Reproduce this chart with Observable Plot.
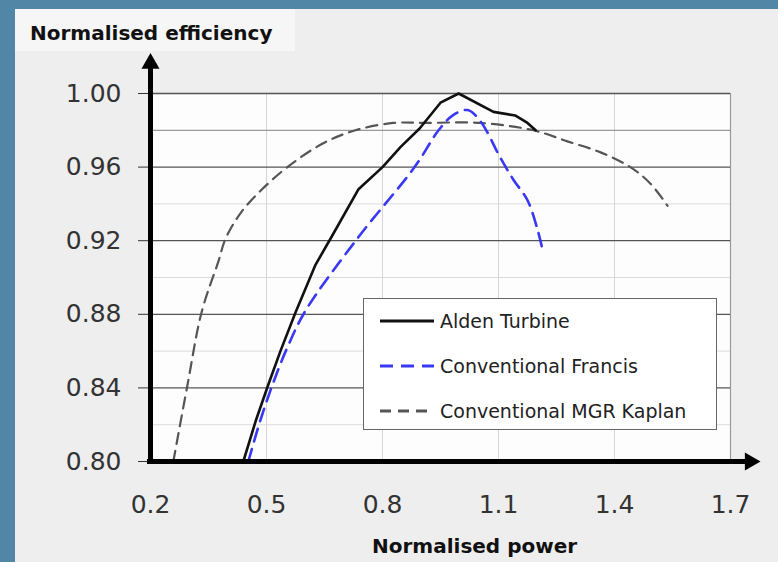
<!DOCTYPE html>
<html>
<head>
<meta charset="utf-8">
<script src="https://cdn.jsdelivr.net/npm/d3@7"></script>
<script src="https://cdn.jsdelivr.net/npm/@observablehq/plot@0.6"></script>
<style>
  html, body { margin: 0; padding: 0; width: 778px; height: 562px; overflow: hidden; background: #5186a7; }
  #panel { position: absolute; left: 15px; top: 9px; right: 0; bottom: 0; background: #eeeeee; }
  #titlebox { position: absolute; left: 15px; top: 9px; width: 280px; height: 42px; background: #f6f6f6; }
  #chart { position: absolute; left: 0; top: 0; }
  .lbl { position: absolute; font-family: "DejaVu Sans", sans-serif; font-weight: bold; font-size: 20px; line-height: 20px; color: #111; white-space: nowrap; }
  #legend { position: absolute; left: 363px; top: 298px; width: 352px; height: 130px; border: 1.5px solid #666; background: #ffffff; font-family: "DejaVu Sans", sans-serif; font-size: 19px; color: #222; }
  .row { position: absolute; left: 0; height: 24px; }
  .row svg { position: absolute; left: 16px; top: 0; }
  .row span { position: absolute; left: 76px; top: 1px; line-height: 22px; white-space: nowrap; }
</style>
</head>
<body>
<div id="panel"></div>
<div id="titlebox"></div>
<div id="chart"></div>
<div class="lbl" style="left:30px; top:23px;">Normalised efficiency</div>
<div class="lbl" style="left:372px; top:536px;">Normalised power</div>
<div id="legend"></div>
<script>
// ---- data ----
const aldenX   = [0.440,0.472,0.505,0.536,0.575,0.627,0.668,0.738,0.800,0.847,0.896,0.950,0.997,1.087,1.144,1.175,1.196];
const aldenY   = [0.800,0.822,0.842,0.860,0.881,0.907,0.922,0.948,0.960,0.971,0.981,0.995,1.000,0.990,0.988,0.984,0.980];
const francisX = [0.453,0.482,0.516,0.554,0.601,0.738,0.883,0.945,0.981,1.020,1.053,1.105,1.139,1.175,1.201,1.214];
const francisY = [0.800,0.821,0.842,0.862,0.882,0.922,0.960,0.980,0.988,0.991,0.985,0.965,0.953,0.942,0.926,0.915];
const kaplanX  = [0.259,0.296,0.332,0.376,0.394,0.433,0.484,0.554,0.647,0.730,0.828,0.906,1.053,1.190,1.278,1.364,1.441,1.493,1.537];
const kaplanY  = [0.800,0.842,0.881,0.909,0.921,0.935,0.947,0.960,0.973,0.980,0.984,0.984,0.984,0.980,0.974,0.968,0.960,0.951,0.939];

const seriesNames = ["Alden Turbine", "Conventional Francis", "Conventional MGR Kaplan"];
const xTicks = [0.2, 0.5, 0.8, 1.1, 1.4, 1.7];
const yTicks = [0.80, 0.84, 0.88, 0.92, 0.96, 1.00];
const yMinorGrid = [0.82, 0.86, 0.90, 0.94];
const yMidGrid = [0.98];
const xGrid = [0.5, 0.8, 1.1, 1.4];
const xEdge = [1.7];
// axis arrow extents (in data units, beyond the domain)
const yAxisEnd = 1.0147, yArrowAt = 1.0163;
const xAxisStart = 0.1922, xAxisEnd = 1.739, xArrowAt = 1.7507;

const toRows = (xs, ys) => xs.map((x, i) => ({x, y: ys[i]}));
const alden = toRows(aldenX, aldenY);
const francis = toRows(francisX, francisY);
const kaplan = toRows(kaplanX, kaplanY);

const styles = [
  {stroke: "#111111", strokeWidth: 2.6, dash: null},
  {stroke: "#3838f5", strokeWidth: 2.6, dash: "13,8"},
  {stroke: "#555555", strokeWidth: 2.2, dash: "11,7"}
];

const chart = Plot.plot({
  width: 778,
  height: 562,
  marginLeft: 150,
  marginRight: 48,
  marginTop: 93,
  marginBottom: 101,
  x: {domain: [0.2, 1.7]},
  y: {domain: [0.8, 1.0]},
  style: {background: "transparent", fontFamily: "DejaVu Sans, sans-serif", overflow: "visible"},
  marks: [
    Plot.frame({fill: "#fdfdfd", stroke: "none"}),
    Plot.ruleY(yMinorGrid, {stroke: "#dcdcdc", strokeWidth: 1}),
    Plot.ruleX(xGrid, {stroke: "#d6d6d6", strokeWidth: 1}),
    Plot.ruleY(yMidGrid, {stroke: "#9a9a9a", strokeWidth: 1.2}),
    Plot.ruleX(xEdge, {stroke: "#9a9a9a", strokeWidth: 1.2}),
    Plot.ruleY(yTicks.slice(1), {stroke: "#555", strokeWidth: 1.3}),
    Plot.axisY(yTicks, {tickSize: 12, tickPadding: 17, tickFormat: d3.format(".2f"), fontSize: 25, color: "#333", label: null}),
    Plot.axisX(xTicks, {tickSize: 0, tickPadding: 34, tickFormat: d3.format(".1f"), fontSize: 25, color: "#333", label: null}),
    Plot.line(kaplan, {x: "x", y: "y", stroke: styles[2].stroke, strokeWidth: styles[2].strokeWidth, strokeDasharray: styles[2].dash, curve: "catmull-rom"}),
    Plot.line(francis, {x: "x", y: "y", stroke: styles[1].stroke, strokeWidth: styles[1].strokeWidth, strokeDasharray: styles[1].dash, curve: "catmull-rom"}),
    Plot.line(alden, {x: "x", y: "y", stroke: styles[0].stroke, strokeWidth: styles[0].strokeWidth}),
    Plot.ruleX([{x: 0.2, y1: 0.7985, y2: yAxisEnd}], {x: "x", y1: "y1", y2: "y2", stroke: "#000", strokeWidth: 5}),
    Plot.ruleY([{y: 0.8, x1: xAxisStart, x2: xAxisEnd}], {y: "y", x1: "x1", x2: "x2", stroke: "#000", strokeWidth: 5}),
    Plot.dot([{x: 0.2, y: yArrowAt}], {x: "x", y: "y", symbol: "triangle", r: 6.7, fill: "#000", stroke: "none"}),
    Plot.dot([{x: xArrowAt, y: 0.8}], {x: "x", y: "y", symbol: "triangle", r: 6.7, fill: "#000", stroke: "none", rotate: 90})
  ]
});
document.getElementById("chart").appendChild(chart);

// legend
const legend = document.getElementById("legend");
const rowTops = [10, 55, 100];
seriesNames.forEach((name, i) => {
  const row = document.createElement("div");
  row.className = "row";
  row.style.top = rowTops[i] + "px";
  const s = styles[i];
  row.innerHTML = `<svg width="56" height="24"><line x1="0" x2="54" y1="12" y2="12" stroke="${s.stroke}" stroke-width="${s.strokeWidth + 0.6}" ${s.dash ? `stroke-dasharray="${s.dash}"` : ""}/></svg><span>${name}</span>`;
  legend.appendChild(row);
});
</script>
</body>
</html>
